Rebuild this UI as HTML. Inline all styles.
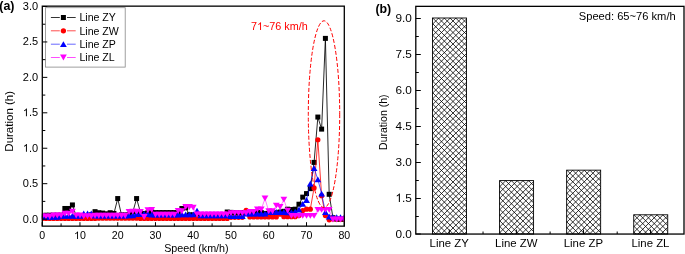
<!DOCTYPE html>
<html><head><meta charset="utf-8"><style>
html,body{margin:0;padding:0;background:#fff;overflow:hidden;}
svg{display:block;will-change:transform;}
</style></head><body><svg width="685" height="254" viewBox="0 0 685 254" font-family='"Liberation Sans", sans-serif'><defs><clipPath id="cb1"><rect x="432.50" y="18.00" width="34" height="216.00"/></clipPath><clipPath id="cb2"><rect x="499.58" y="180.60" width="34" height="53.40"/></clipPath><clipPath id="cb3"><rect x="566.66" y="170.16" width="34" height="63.84"/></clipPath><clipPath id="cb4"><rect x="633.74" y="214.80" width="34" height="19.20"/></clipPath><clipPath id="clipA"><rect x="41.9" y="6.5" width="302.4" height="219.5"/></clipPath></defs><rect width="685" height="254" fill="#fff"/><text x="-0.75" y="9.6" font-size="12.4" font-weight="bold">(a)</text><rect x="45.4" y="7.7" width="79.8" height="59.4" fill="#fff" stroke="#888" stroke-width="0.8"/><g clip-path="url(#clipA)"><polyline points="42.20,216.28 45.98,215.21 49.75,215.21 53.53,215.21 57.30,215.21 61.08,215.21 64.86,208.48 68.63,208.48 72.41,204.94 76.18,215.92 79.96,216.28 83.74,216.28 87.51,216.28 91.29,214.86 95.06,211.67 98.84,212.73 102.62,213.09 106.39,213.79 110.17,212.73 113.94,213.44 117.72,198.56 121.50,214.86 125.27,214.86 129.05,214.86 132.82,212.02 136.60,198.56 140.38,212.02 144.15,213.44 147.93,212.73 151.70,212.02 155.48,212.59 159.26,212.59 163.03,212.59 166.81,212.59 170.58,212.59 174.36,212.59 178.14,212.59 181.91,208.48 185.69,207.77 189.46,214.86 193.24,214.86 197.02,214.86 200.79,214.86 204.57,214.86 208.34,214.86 212.12,214.86 215.90,214.86 219.67,214.86 223.45,214.86 227.22,212.02 231.00,212.38 234.78,212.73 238.55,212.87 242.33,212.52 246.10,212.52 249.88,212.52 253.66,212.52 257.43,212.52 261.21,212.52 264.98,213.44 268.76,213.44 272.54,213.44 276.31,212.73 280.09,212.02 283.86,211.31 287.64,209.19 291.42,209.54 295.19,209.19 298.97,204.23 302.74,197.14 306.52,193.60 310.30,188.64 314.07,162.41 317.85,117.06 321.62,129.11 325.40,38.39 329.18,194.31 332.95,217.69 336.73,219.11 340.50,219.11 344.28,219.11" fill="none" stroke="#000" stroke-width="0.85" stroke-linejoin="round"/><g fill="#000"><rect x="39.70" y="213.78" width="5.0" height="5.0"/><rect x="43.48" y="212.71" width="5.0" height="5.0"/><rect x="47.25" y="212.71" width="5.0" height="5.0"/><rect x="51.03" y="212.71" width="5.0" height="5.0"/><rect x="54.80" y="212.71" width="5.0" height="5.0"/><rect x="58.58" y="212.71" width="5.0" height="5.0"/><rect x="62.36" y="205.98" width="5.0" height="5.0"/><rect x="66.13" y="205.98" width="5.0" height="5.0"/><rect x="69.91" y="202.44" width="5.0" height="5.0"/><rect x="73.68" y="213.42" width="5.0" height="5.0"/><rect x="77.46" y="213.78" width="5.0" height="5.0"/><rect x="81.24" y="213.78" width="5.0" height="5.0"/><rect x="85.01" y="213.78" width="5.0" height="5.0"/><rect x="88.79" y="212.36" width="5.0" height="5.0"/><rect x="92.56" y="209.17" width="5.0" height="5.0"/><rect x="96.34" y="210.23" width="5.0" height="5.0"/><rect x="100.12" y="210.59" width="5.0" height="5.0"/><rect x="103.89" y="211.29" width="5.0" height="5.0"/><rect x="107.67" y="210.23" width="5.0" height="5.0"/><rect x="111.44" y="210.94" width="5.0" height="5.0"/><rect x="115.22" y="196.06" width="5.0" height="5.0"/><rect x="119.00" y="212.36" width="5.0" height="5.0"/><rect x="122.77" y="212.36" width="5.0" height="5.0"/><rect x="126.55" y="212.36" width="5.0" height="5.0"/><rect x="130.32" y="209.52" width="5.0" height="5.0"/><rect x="134.10" y="196.06" width="5.0" height="5.0"/><rect x="137.88" y="209.52" width="5.0" height="5.0"/><rect x="141.65" y="210.94" width="5.0" height="5.0"/><rect x="145.43" y="210.23" width="5.0" height="5.0"/><rect x="149.20" y="209.52" width="5.0" height="5.0"/><rect x="152.98" y="210.09" width="5.0" height="5.0"/><rect x="156.76" y="210.09" width="5.0" height="5.0"/><rect x="160.53" y="210.09" width="5.0" height="5.0"/><rect x="164.31" y="210.09" width="5.0" height="5.0"/><rect x="168.08" y="210.09" width="5.0" height="5.0"/><rect x="171.86" y="210.09" width="5.0" height="5.0"/><rect x="175.64" y="210.09" width="5.0" height="5.0"/><rect x="179.41" y="205.98" width="5.0" height="5.0"/><rect x="183.19" y="205.27" width="5.0" height="5.0"/><rect x="186.96" y="212.36" width="5.0" height="5.0"/><rect x="190.74" y="212.36" width="5.0" height="5.0"/><rect x="194.52" y="212.36" width="5.0" height="5.0"/><rect x="198.29" y="212.36" width="5.0" height="5.0"/><rect x="202.07" y="212.36" width="5.0" height="5.0"/><rect x="205.84" y="212.36" width="5.0" height="5.0"/><rect x="209.62" y="212.36" width="5.0" height="5.0"/><rect x="213.40" y="212.36" width="5.0" height="5.0"/><rect x="217.17" y="212.36" width="5.0" height="5.0"/><rect x="220.95" y="212.36" width="5.0" height="5.0"/><rect x="224.72" y="209.52" width="5.0" height="5.0"/><rect x="228.50" y="209.88" width="5.0" height="5.0"/><rect x="232.28" y="210.23" width="5.0" height="5.0"/><rect x="236.05" y="210.37" width="5.0" height="5.0"/><rect x="239.83" y="210.02" width="5.0" height="5.0"/><rect x="243.60" y="210.02" width="5.0" height="5.0"/><rect x="247.38" y="210.02" width="5.0" height="5.0"/><rect x="251.16" y="210.02" width="5.0" height="5.0"/><rect x="254.93" y="210.02" width="5.0" height="5.0"/><rect x="258.71" y="210.02" width="5.0" height="5.0"/><rect x="262.48" y="210.94" width="5.0" height="5.0"/><rect x="266.26" y="210.94" width="5.0" height="5.0"/><rect x="270.04" y="210.94" width="5.0" height="5.0"/><rect x="273.81" y="210.23" width="5.0" height="5.0"/><rect x="277.59" y="209.52" width="5.0" height="5.0"/><rect x="281.36" y="208.81" width="5.0" height="5.0"/><rect x="285.14" y="206.69" width="5.0" height="5.0"/><rect x="288.92" y="207.04" width="5.0" height="5.0"/><rect x="292.69" y="206.69" width="5.0" height="5.0"/><rect x="296.47" y="201.73" width="5.0" height="5.0"/><rect x="300.24" y="194.64" width="5.0" height="5.0"/><rect x="304.02" y="191.10" width="5.0" height="5.0"/><rect x="307.80" y="186.14" width="5.0" height="5.0"/><rect x="311.57" y="159.91" width="5.0" height="5.0"/><rect x="315.35" y="114.56" width="5.0" height="5.0"/><rect x="319.12" y="126.61" width="5.0" height="5.0"/><rect x="322.90" y="35.89" width="5.0" height="5.0"/><rect x="326.68" y="191.81" width="5.0" height="5.0"/><rect x="330.45" y="215.19" width="5.0" height="5.0"/><rect x="334.23" y="216.61" width="5.0" height="5.0"/><rect x="338.00" y="216.61" width="5.0" height="5.0"/><rect x="341.78" y="216.61" width="5.0" height="5.0"/></g><polyline points="42.20,218.40 45.98,218.40 49.75,218.40 53.53,218.40 57.30,218.40 61.08,218.40 64.86,218.40 68.63,218.40 72.41,218.40 76.18,218.40 79.96,218.40 83.74,218.40 87.51,218.40 91.29,218.40 95.06,218.40 98.84,218.26 102.62,218.26 106.39,218.26 110.17,218.26 113.94,218.26 117.72,218.26 121.50,218.26 125.27,218.26 129.05,218.26 132.82,218.26 136.60,218.26 140.38,218.40 144.15,218.40 147.93,218.40 151.70,218.40 155.48,218.40 159.26,218.40 163.03,218.40 166.81,218.40 170.58,218.40 174.36,218.40 178.14,218.40 181.91,218.40 185.69,218.40 189.46,218.40 193.24,218.40 197.02,218.40 200.79,218.40 204.57,218.40 208.34,218.40 212.12,218.40 215.90,218.40 219.67,218.40 223.45,218.40 227.22,218.40 231.00,217.34 234.78,217.34 238.55,217.34 242.33,217.34 246.10,210.25 249.88,216.98 253.66,216.98 257.43,216.98 261.21,216.98 264.98,216.98 268.76,216.98 272.54,216.98 276.31,216.98 280.09,214.15 283.86,216.63 287.64,216.63 291.42,216.63 295.19,216.63 298.97,215.57 302.74,210.61 306.52,209.19 310.30,209.19 314.07,187.93 317.85,139.74 321.62,195.72 325.40,215.57 329.18,219.82 332.95,219.11 336.73,219.11 340.50,219.11 344.28,219.11" fill="none" stroke="#f00" stroke-width="0.8" stroke-linejoin="round"/><g fill="#f00"><circle cx="42.20" cy="218.40" r="2.6"/><circle cx="45.98" cy="218.40" r="2.6"/><circle cx="49.75" cy="218.40" r="2.6"/><circle cx="53.53" cy="218.40" r="2.6"/><circle cx="57.30" cy="218.40" r="2.6"/><circle cx="61.08" cy="218.40" r="2.6"/><circle cx="64.86" cy="218.40" r="2.6"/><circle cx="68.63" cy="218.40" r="2.6"/><circle cx="72.41" cy="218.40" r="2.6"/><circle cx="76.18" cy="218.40" r="2.6"/><circle cx="79.96" cy="218.40" r="2.6"/><circle cx="83.74" cy="218.40" r="2.6"/><circle cx="87.51" cy="218.40" r="2.6"/><circle cx="91.29" cy="218.40" r="2.6"/><circle cx="95.06" cy="218.40" r="2.6"/><circle cx="98.84" cy="218.26" r="2.6"/><circle cx="102.62" cy="218.26" r="2.6"/><circle cx="106.39" cy="218.26" r="2.6"/><circle cx="110.17" cy="218.26" r="2.6"/><circle cx="113.94" cy="218.26" r="2.6"/><circle cx="117.72" cy="218.26" r="2.6"/><circle cx="121.50" cy="218.26" r="2.6"/><circle cx="125.27" cy="218.26" r="2.6"/><circle cx="129.05" cy="218.26" r="2.6"/><circle cx="132.82" cy="218.26" r="2.6"/><circle cx="136.60" cy="218.26" r="2.6"/><circle cx="140.38" cy="218.40" r="2.6"/><circle cx="144.15" cy="218.40" r="2.6"/><circle cx="147.93" cy="218.40" r="2.6"/><circle cx="151.70" cy="218.40" r="2.6"/><circle cx="155.48" cy="218.40" r="2.6"/><circle cx="159.26" cy="218.40" r="2.6"/><circle cx="163.03" cy="218.40" r="2.6"/><circle cx="166.81" cy="218.40" r="2.6"/><circle cx="170.58" cy="218.40" r="2.6"/><circle cx="174.36" cy="218.40" r="2.6"/><circle cx="178.14" cy="218.40" r="2.6"/><circle cx="181.91" cy="218.40" r="2.6"/><circle cx="185.69" cy="218.40" r="2.6"/><circle cx="189.46" cy="218.40" r="2.6"/><circle cx="193.24" cy="218.40" r="2.6"/><circle cx="197.02" cy="218.40" r="2.6"/><circle cx="200.79" cy="218.40" r="2.6"/><circle cx="204.57" cy="218.40" r="2.6"/><circle cx="208.34" cy="218.40" r="2.6"/><circle cx="212.12" cy="218.40" r="2.6"/><circle cx="215.90" cy="218.40" r="2.6"/><circle cx="219.67" cy="218.40" r="2.6"/><circle cx="223.45" cy="218.40" r="2.6"/><circle cx="227.22" cy="218.40" r="2.6"/><circle cx="231.00" cy="217.34" r="2.6"/><circle cx="234.78" cy="217.34" r="2.6"/><circle cx="238.55" cy="217.34" r="2.6"/><circle cx="242.33" cy="217.34" r="2.6"/><circle cx="246.10" cy="210.25" r="2.6"/><circle cx="249.88" cy="216.98" r="2.6"/><circle cx="253.66" cy="216.98" r="2.6"/><circle cx="257.43" cy="216.98" r="2.6"/><circle cx="261.21" cy="216.98" r="2.6"/><circle cx="264.98" cy="216.98" r="2.6"/><circle cx="268.76" cy="216.98" r="2.6"/><circle cx="272.54" cy="216.98" r="2.6"/><circle cx="276.31" cy="216.98" r="2.6"/><circle cx="280.09" cy="214.15" r="2.6"/><circle cx="283.86" cy="216.63" r="2.6"/><circle cx="287.64" cy="216.63" r="2.6"/><circle cx="291.42" cy="216.63" r="2.6"/><circle cx="295.19" cy="216.63" r="2.6"/><circle cx="298.97" cy="215.57" r="2.6"/><circle cx="302.74" cy="210.61" r="2.6"/><circle cx="306.52" cy="209.19" r="2.6"/><circle cx="310.30" cy="209.19" r="2.6"/><circle cx="314.07" cy="187.93" r="2.6"/><circle cx="317.85" cy="139.74" r="2.6"/><circle cx="321.62" cy="195.72" r="2.6"/><circle cx="325.40" cy="215.57" r="2.6"/><circle cx="329.18" cy="219.82" r="2.6"/><circle cx="332.95" cy="219.11" r="2.6"/><circle cx="336.73" cy="219.11" r="2.6"/><circle cx="340.50" cy="219.11" r="2.6"/><circle cx="344.28" cy="219.11" r="2.6"/></g><polyline points="42.20,216.84 45.98,216.84 49.75,216.84 53.53,216.84 57.30,216.84 61.08,215.78 64.86,215.78 68.63,215.78 72.41,215.78 76.18,215.78 79.96,215.78 83.74,213.44 87.51,213.44 91.29,213.44 95.06,215.57 98.84,215.57 102.62,215.57 106.39,215.57 110.17,215.57 113.94,215.57 117.72,215.57 121.50,215.57 125.27,215.57 129.05,215.42 132.82,215.42 136.60,214.01 140.38,214.01 144.15,213.65 147.93,214.01 151.70,214.57 155.48,214.57 159.26,214.57 163.03,214.57 166.81,214.57 170.58,214.57 174.36,214.57 178.14,214.57 181.91,214.36 185.69,214.36 189.46,214.36 193.24,214.36 197.02,210.61 200.79,215.42 204.57,215.42 208.34,215.42 212.12,215.42 215.90,215.42 219.67,215.42 223.45,215.42 227.22,215.42 231.00,216.13 234.78,216.13 238.55,216.13 242.33,216.13 246.10,213.65 249.88,213.65 253.66,213.65 257.43,213.65 261.21,213.65 264.98,213.65 268.76,212.02 272.54,212.02 276.31,212.02 280.09,212.02 283.86,212.02 287.64,212.38 291.42,212.38 295.19,211.67 298.97,209.54 302.74,203.87 306.52,199.98 310.30,183.68 314.07,168.08 317.85,179.42 321.62,193.60 325.40,212.02 329.18,216.49 332.95,217.20 336.73,217.20 340.50,217.20 344.28,217.20" fill="none" stroke="#00f" stroke-width="0.65" stroke-linejoin="round"/><g fill="#00f"><path d="M38.80 219.79L45.60 219.79L42.20 213.89Z"/><path d="M42.58 219.79L49.38 219.79L45.98 213.89Z"/><path d="M46.35 219.79L53.15 219.79L49.75 213.89Z"/><path d="M50.13 219.79L56.93 219.79L53.53 213.89Z"/><path d="M53.90 219.79L60.70 219.79L57.30 213.89Z"/><path d="M57.68 218.73L64.48 218.73L61.08 212.83Z"/><path d="M61.46 218.73L68.26 218.73L64.86 212.83Z"/><path d="M65.23 218.73L72.03 218.73L68.63 212.83Z"/><path d="M69.01 218.73L75.81 218.73L72.41 212.83Z"/><path d="M72.78 218.73L79.58 218.73L76.18 212.83Z"/><path d="M76.56 218.73L83.36 218.73L79.96 212.83Z"/><path d="M80.34 216.39L87.14 216.39L83.74 210.49Z"/><path d="M84.11 216.39L90.91 216.39L87.51 210.49Z"/><path d="M87.89 216.39L94.69 216.39L91.29 210.49Z"/><path d="M91.66 218.52L98.46 218.52L95.06 212.62Z"/><path d="M95.44 218.52L102.24 218.52L98.84 212.62Z"/><path d="M99.22 218.52L106.02 218.52L102.62 212.62Z"/><path d="M102.99 218.52L109.79 218.52L106.39 212.62Z"/><path d="M106.77 218.52L113.57 218.52L110.17 212.62Z"/><path d="M110.54 218.52L117.34 218.52L113.94 212.62Z"/><path d="M114.32 218.52L121.12 218.52L117.72 212.62Z"/><path d="M118.10 218.52L124.90 218.52L121.50 212.62Z"/><path d="M121.87 218.52L128.67 218.52L125.27 212.62Z"/><path d="M125.65 218.37L132.45 218.37L129.05 212.47Z"/><path d="M129.42 218.37L136.22 218.37L132.82 212.47Z"/><path d="M133.20 216.96L140.00 216.96L136.60 211.06Z"/><path d="M136.98 216.96L143.78 216.96L140.38 211.06Z"/><path d="M140.75 216.60L147.55 216.60L144.15 210.70Z"/><path d="M144.53 216.96L151.33 216.96L147.93 211.06Z"/><path d="M148.30 217.52L155.10 217.52L151.70 211.62Z"/><path d="M152.08 217.52L158.88 217.52L155.48 211.62Z"/><path d="M155.86 217.52L162.66 217.52L159.26 211.62Z"/><path d="M159.63 217.52L166.43 217.52L163.03 211.62Z"/><path d="M163.41 217.52L170.21 217.52L166.81 211.62Z"/><path d="M167.18 217.52L173.98 217.52L170.58 211.62Z"/><path d="M170.96 217.52L177.76 217.52L174.36 211.62Z"/><path d="M174.74 217.52L181.54 217.52L178.14 211.62Z"/><path d="M178.51 217.31L185.31 217.31L181.91 211.41Z"/><path d="M182.29 217.31L189.09 217.31L185.69 211.41Z"/><path d="M186.06 217.31L192.86 217.31L189.46 211.41Z"/><path d="M189.84 217.31L196.64 217.31L193.24 211.41Z"/><path d="M193.62 213.56L200.42 213.56L197.02 207.66Z"/><path d="M197.39 218.37L204.19 218.37L200.79 212.47Z"/><path d="M201.17 218.37L207.97 218.37L204.57 212.47Z"/><path d="M204.94 218.37L211.74 218.37L208.34 212.47Z"/><path d="M208.72 218.37L215.52 218.37L212.12 212.47Z"/><path d="M212.50 218.37L219.30 218.37L215.90 212.47Z"/><path d="M216.27 218.37L223.07 218.37L219.67 212.47Z"/><path d="M220.05 218.37L226.85 218.37L223.45 212.47Z"/><path d="M223.82 218.37L230.62 218.37L227.22 212.47Z"/><path d="M227.60 219.08L234.40 219.08L231.00 213.18Z"/><path d="M231.38 219.08L238.18 219.08L234.78 213.18Z"/><path d="M235.15 219.08L241.95 219.08L238.55 213.18Z"/><path d="M238.93 219.08L245.73 219.08L242.33 213.18Z"/><path d="M242.70 216.60L249.50 216.60L246.10 210.70Z"/><path d="M246.48 216.60L253.28 216.60L249.88 210.70Z"/><path d="M250.26 216.60L257.06 216.60L253.66 210.70Z"/><path d="M254.03 216.60L260.83 216.60L257.43 210.70Z"/><path d="M257.81 216.60L264.61 216.60L261.21 210.70Z"/><path d="M261.58 216.60L268.38 216.60L264.98 210.70Z"/><path d="M265.36 214.97L272.16 214.97L268.76 209.07Z"/><path d="M269.14 214.97L275.94 214.97L272.54 209.07Z"/><path d="M272.91 214.97L279.71 214.97L276.31 209.07Z"/><path d="M276.69 214.97L283.49 214.97L280.09 209.07Z"/><path d="M280.46 214.97L287.26 214.97L283.86 209.07Z"/><path d="M284.24 215.33L291.04 215.33L287.64 209.43Z"/><path d="M288.02 215.33L294.82 215.33L291.42 209.43Z"/><path d="M291.79 214.62L298.59 214.62L295.19 208.72Z"/><path d="M295.57 212.49L302.37 212.49L298.97 206.59Z"/><path d="M299.34 206.82L306.14 206.82L302.74 200.92Z"/><path d="M303.12 202.93L309.92 202.93L306.52 197.03Z"/><path d="M306.90 186.62L313.70 186.62L310.30 180.73Z"/><path d="M310.67 171.03L317.47 171.03L314.07 165.13Z"/><path d="M314.45 182.37L321.25 182.37L317.85 176.47Z"/><path d="M318.22 196.55L325.02 196.55L321.62 190.65Z"/><path d="M322.00 214.97L328.80 214.97L325.40 209.07Z"/><path d="M325.78 219.44L332.58 219.44L329.18 213.54Z"/><path d="M329.55 220.15L336.35 220.15L332.95 214.25Z"/><path d="M333.33 220.15L340.13 220.15L336.73 214.25Z"/><path d="M337.10 220.15L343.90 220.15L340.50 214.25Z"/><path d="M340.88 220.15L347.68 220.15L344.28 214.25Z"/></g><polyline points="42.20,216.49 45.98,216.49 49.75,216.49 53.53,215.57 57.30,215.57 61.08,215.57 64.86,213.79 68.63,213.79 72.41,211.67 76.18,215.57 79.96,215.57 83.74,216.28 87.51,216.28 91.29,216.28 95.06,215.78 98.84,215.78 102.62,215.78 106.39,215.78 110.17,215.78 113.94,215.78 117.72,215.78 121.50,215.78 125.27,215.78 129.05,212.02 132.82,211.67 136.60,211.67 140.38,212.02 144.15,216.98 147.93,210.25 151.70,209.90 155.48,214.72 159.26,214.72 163.03,214.72 166.81,214.72 170.58,214.72 174.36,214.72 178.14,210.96 181.91,211.31 185.69,207.06 189.46,207.06 193.24,207.77 197.02,214.50 200.79,214.50 204.57,214.50 208.34,214.50 212.12,214.50 215.90,214.50 219.67,214.50 223.45,214.50 227.22,214.50 231.00,213.09 234.78,213.09 238.55,213.09 242.33,213.09 246.10,213.09 249.88,212.02 253.66,212.02 257.43,209.54 261.21,209.54 264.98,198.56 268.76,211.31 272.54,211.31 276.31,205.64 280.09,207.06 283.86,199.62 287.64,210.61 291.42,215.92 295.19,215.92 298.97,215.92 302.74,215.92 306.52,215.92 310.30,215.92 314.07,215.92 317.85,209.90 321.62,209.90 325.40,209.90 329.18,209.90 332.95,219.46 336.73,219.46 340.50,219.46 344.28,219.46" fill="none" stroke="#f0f" stroke-width="0.5" stroke-linejoin="round"/><g fill="#f0f"><path d="M38.80 213.54L45.60 213.54L42.20 219.44Z"/><path d="M42.58 213.54L49.38 213.54L45.98 219.44Z"/><path d="M46.35 213.54L53.15 213.54L49.75 219.44Z"/><path d="M50.13 212.62L56.93 212.62L53.53 218.52Z"/><path d="M53.90 212.62L60.70 212.62L57.30 218.52Z"/><path d="M57.68 212.62L64.48 212.62L61.08 218.52Z"/><path d="M61.46 210.84L68.26 210.84L64.86 216.74Z"/><path d="M65.23 210.84L72.03 210.84L68.63 216.74Z"/><path d="M69.01 208.72L75.81 208.72L72.41 214.62Z"/><path d="M72.78 212.62L79.58 212.62L76.18 218.52Z"/><path d="M76.56 212.62L83.36 212.62L79.96 218.52Z"/><path d="M80.34 213.33L87.14 213.33L83.74 219.23Z"/><path d="M84.11 213.33L90.91 213.33L87.51 219.23Z"/><path d="M87.89 213.33L94.69 213.33L91.29 219.23Z"/><path d="M91.66 212.83L98.46 212.83L95.06 218.73Z"/><path d="M95.44 212.83L102.24 212.83L98.84 218.73Z"/><path d="M99.22 212.83L106.02 212.83L102.62 218.73Z"/><path d="M102.99 212.83L109.79 212.83L106.39 218.73Z"/><path d="M106.77 212.83L113.57 212.83L110.17 218.73Z"/><path d="M110.54 212.83L117.34 212.83L113.94 218.73Z"/><path d="M114.32 212.83L121.12 212.83L117.72 218.73Z"/><path d="M118.10 212.83L124.90 212.83L121.50 218.73Z"/><path d="M121.87 212.83L128.67 212.83L125.27 218.73Z"/><path d="M125.65 209.07L132.45 209.07L129.05 214.97Z"/><path d="M129.42 208.72L136.22 208.72L132.82 214.62Z"/><path d="M133.20 208.72L140.00 208.72L136.60 214.62Z"/><path d="M136.98 209.07L143.78 209.07L140.38 214.97Z"/><path d="M140.75 214.03L147.55 214.03L144.15 219.93Z"/><path d="M144.53 207.30L151.33 207.30L147.93 213.20Z"/><path d="M148.30 206.95L155.10 206.95L151.70 212.85Z"/><path d="M152.08 211.77L158.88 211.77L155.48 217.67Z"/><path d="M155.86 211.77L162.66 211.77L159.26 217.67Z"/><path d="M159.63 211.77L166.43 211.77L163.03 217.67Z"/><path d="M163.41 211.77L170.21 211.77L166.81 217.67Z"/><path d="M167.18 211.77L173.98 211.77L170.58 217.67Z"/><path d="M170.96 211.77L177.76 211.77L174.36 217.67Z"/><path d="M174.74 208.01L181.54 208.01L178.14 213.91Z"/><path d="M178.51 208.36L185.31 208.36L181.91 214.26Z"/><path d="M182.29 204.11L189.09 204.11L185.69 210.01Z"/><path d="M186.06 204.11L192.86 204.11L189.46 210.01Z"/><path d="M189.84 204.82L196.64 204.82L193.24 210.72Z"/><path d="M193.62 211.55L200.42 211.55L197.02 217.45Z"/><path d="M197.39 211.55L204.19 211.55L200.79 217.45Z"/><path d="M201.17 211.55L207.97 211.55L204.57 217.45Z"/><path d="M204.94 211.55L211.74 211.55L208.34 217.45Z"/><path d="M208.72 211.55L215.52 211.55L212.12 217.45Z"/><path d="M212.50 211.55L219.30 211.55L215.90 217.45Z"/><path d="M216.27 211.55L223.07 211.55L219.67 217.45Z"/><path d="M220.05 211.55L226.85 211.55L223.45 217.45Z"/><path d="M223.82 211.55L230.62 211.55L227.22 217.45Z"/><path d="M227.60 210.14L234.40 210.14L231.00 216.04Z"/><path d="M231.38 210.14L238.18 210.14L234.78 216.04Z"/><path d="M235.15 210.14L241.95 210.14L238.55 216.04Z"/><path d="M238.93 210.14L245.73 210.14L242.33 216.04Z"/><path d="M242.70 210.14L249.50 210.14L246.10 216.04Z"/><path d="M246.48 209.07L253.28 209.07L249.88 214.97Z"/><path d="M250.26 209.07L257.06 209.07L253.66 214.97Z"/><path d="M254.03 206.59L260.83 206.59L257.43 212.49Z"/><path d="M257.81 206.59L264.61 206.59L261.21 212.49Z"/><path d="M261.58 195.61L268.38 195.61L264.98 201.51Z"/><path d="M265.36 208.36L272.16 208.36L268.76 214.26Z"/><path d="M269.14 208.36L275.94 208.36L272.54 214.26Z"/><path d="M272.91 202.69L279.71 202.69L276.31 208.59Z"/><path d="M276.69 204.11L283.49 204.11L280.09 210.01Z"/><path d="M280.46 196.67L287.26 196.67L283.86 202.57Z"/><path d="M284.24 207.66L291.04 207.66L287.64 213.56Z"/><path d="M288.02 212.97L294.82 212.97L291.42 218.87Z"/><path d="M291.79 212.97L298.59 212.97L295.19 218.87Z"/><path d="M295.57 212.97L302.37 212.97L298.97 218.87Z"/><path d="M299.34 212.97L306.14 212.97L302.74 218.87Z"/><path d="M303.12 212.97L309.92 212.97L306.52 218.87Z"/><path d="M306.90 212.97L313.70 212.97L310.30 218.87Z"/><path d="M310.67 212.97L317.47 212.97L314.07 218.87Z"/><path d="M314.45 206.95L321.25 206.95L317.85 212.85Z"/><path d="M318.22 206.95L325.02 206.95L321.62 212.85Z"/><path d="M322.00 206.95L328.80 206.95L325.40 212.85Z"/><path d="M325.78 206.95L332.58 206.95L329.18 212.85Z"/><path d="M329.55 216.51L336.35 216.51L332.95 222.41Z"/><path d="M333.33 216.51L340.13 216.51L336.73 222.41Z"/><path d="M337.10 216.51L343.90 216.51L340.50 222.41Z"/><path d="M340.88 216.51L347.68 216.51L344.28 222.41Z"/></g></g><ellipse cx="324.0" cy="114.2" rx="15.7" ry="93.4" fill="none" stroke="#f00" stroke-width="1" stroke-dasharray="4 2"/><text x="251.00" y="30.00" font-size="10.8" fill="#f00">7 ~76 km/h</text><path transform="translate(257.006 30.000) scale(0.005273 -0.005273)" d="M763 0L583 0L583 1147Q518 1085 415 1024.5Q312 964 223 931L223 1105Q374 1176 485.5 1275Q597 1374 647 1466L763 1466Z" fill="#f00"/><rect x="42.3" y="6.15" width="302.0" height="220.0" fill="none" stroke="#000" stroke-width="1.3"/><path d="M42.3 219.11h5 M42.3 201.39h3 M42.3 183.68h5 M42.3 165.96h3 M42.3 148.24h5 M42.3 130.52h3 M42.3 112.81h5 M42.3 95.09h3 M42.3 77.37h5 M42.3 59.65h3 M42.3 41.94h5 M42.3 24.22h3 M42.3 6.50h5 M42.3 226.70 M42.20 226.2v-4 M61.08 226.2v-2.8 M79.96 226.2v-4 M98.84 226.2v-2.8 M117.72 226.2v-4 M136.60 226.2v-2.8 M155.48 226.2v-4 M174.36 226.2v-2.8 M193.24 226.2v-4 M212.12 226.2v-2.8 M231.00 226.2v-4 M249.88 226.2v-2.8 M268.76 226.2v-4 M287.64 226.2v-2.8 M306.52 226.2v-4 M325.40 226.2v-2.8 M344.28 226.2v-4" stroke="#000" stroke-width="1" fill="none"/><text x="38.10" y="222.66" font-size="11" text-anchor="end">0.0</text><text x="38.10" y="187.23" font-size="11" text-anchor="end">0.5</text><text x="38.10" y="151.79" font-size="11" text-anchor="end"> .0</text><path transform="translate(22.808 151.790) scale(0.005371 -0.005371)" d="M763 0L583 0L583 1147Q518 1085 415 1024.5Q312 964 223 931L223 1105Q374 1176 485.5 1275Q597 1374 647 1466L763 1466Z"/><text x="38.10" y="116.36" font-size="11" text-anchor="end"> .5</text><path transform="translate(22.808 116.355) scale(0.005371 -0.005371)" d="M763 0L583 0L583 1147Q518 1085 415 1024.5Q312 964 223 931L223 1105Q374 1176 485.5 1275Q597 1374 647 1466L763 1466Z"/><text x="38.10" y="80.92" font-size="11" text-anchor="end">2.0</text><text x="38.10" y="45.48" font-size="11" text-anchor="end">2.5</text><text x="38.10" y="10.05" font-size="11" text-anchor="end">3.0</text><text x="42.20" y="239.00" font-size="10.6" text-anchor="middle">0</text><text x="79.96" y="239.00" font-size="10.6" text-anchor="middle"> 0</text><path transform="translate(74.065 239.000) scale(0.005176 -0.005176)" d="M763 0L583 0L583 1147Q518 1085 415 1024.5Q312 964 223 931L223 1105Q374 1176 485.5 1275Q597 1374 647 1466L763 1466Z"/><text x="117.72" y="239.00" font-size="10.6" text-anchor="middle">20</text><text x="155.48" y="239.00" font-size="10.6" text-anchor="middle">30</text><text x="193.24" y="239.00" font-size="10.6" text-anchor="middle">40</text><text x="231.00" y="239.00" font-size="10.6" text-anchor="middle">50</text><text x="268.76" y="239.00" font-size="10.6" text-anchor="middle">60</text><text x="306.52" y="239.00" font-size="10.6" text-anchor="middle">70</text><text x="344.28" y="239.00" font-size="10.6" text-anchor="middle">80</text><text x="196.4" y="251.6" font-size="10.75" text-anchor="middle">Speed (km/h)</text><text transform="translate(12.8 121.3) rotate(-90)" font-size="11.5" text-anchor="middle">Duration (h)</text><path d="M50.9 17.50H59.8M67.0 17.50H75.7" stroke="#000" stroke-width="0.8"/><rect x="60.9" y="15.00" width="5" height="5" fill="#000"/><text x="79.4" y="21.30" font-size="10.6">Line ZY</text><path d="M50.9 30.80H59.8M67.0 30.80H75.7" stroke="#f00" stroke-width="0.7"/><circle cx="63.4" cy="30.80" r="2.65" fill="#f00"/><text x="79.4" y="34.60" font-size="10.6">Line ZW</text><path d="M50.9 44.20H59.8M67.0 44.20H75.7" stroke="#00f" stroke-width="0.6"/><path d="M60.0 47.10L66.8 47.10L63.4 41.30Z" fill="#00f"/><text x="79.4" y="48.00" font-size="10.6">Line ZP</text><path d="M50.9 57.50H59.8M67.0 57.50H75.7" stroke="#f0f" stroke-width="0.7"/><path d="M60.0 54.60L66.8 54.60L63.4 60.40Z" fill="#f0f"/><text x="79.4" y="61.30" font-size="10.6">Line ZL</text><text x="375.4" y="12.7" font-size="12.4" font-weight="bold">(b)</text><path clip-path="url(#cb1)" d="M430.50 8.97L468.50 -29.03M430.50 14.72L468.50 -23.28M430.50 20.47L468.50 -17.53M430.50 26.22L468.50 -11.78M430.50 31.97L468.50 -6.03M430.50 37.72L468.50 -0.28M430.50 43.47L468.50 5.47M430.50 49.22L468.50 11.22M430.50 54.97L468.50 16.97M430.50 60.72L468.50 22.72M430.50 66.47L468.50 28.47M430.50 72.22L468.50 34.22M430.50 77.97L468.50 39.97M430.50 83.72L468.50 45.72M430.50 89.47L468.50 51.47M430.50 95.22L468.50 57.22M430.50 100.97L468.50 62.97M430.50 106.72L468.50 68.72M430.50 112.47L468.50 74.47M430.50 118.22L468.50 80.22M430.50 123.97L468.50 85.97M430.50 129.72L468.50 91.72M430.50 135.47L468.50 97.47M430.50 141.22L468.50 103.22M430.50 146.97L468.50 108.97M430.50 152.72L468.50 114.72M430.50 158.47L468.50 120.47M430.50 164.22L468.50 126.22M430.50 169.97L468.50 131.97M430.50 175.72L468.50 137.72M430.50 181.47L468.50 143.47M430.50 187.22L468.50 149.22M430.50 192.97L468.50 154.97M430.50 198.72L468.50 160.72M430.50 204.47L468.50 166.47M430.50 210.22L468.50 172.22M430.50 215.97L468.50 177.97M430.50 221.72L468.50 183.72M430.50 227.47L468.50 189.47M430.50 233.22L468.50 195.22M430.50 238.97L468.50 200.97M430.50 244.72L468.50 206.72M430.50 250.47L468.50 212.47M430.50 256.22L468.50 218.22M430.50 261.97L468.50 223.97M430.50 267.72L468.50 229.72M430.50 273.47L468.50 235.47M430.50 279.22L468.50 241.22M430.50 240.02L468.50 278.02M430.50 234.27L468.50 272.27M430.50 228.52L468.50 266.52M430.50 222.77L468.50 260.77M430.50 217.02L468.50 255.02M430.50 211.27L468.50 249.27M430.50 205.52L468.50 243.52M430.50 199.77L468.50 237.77M430.50 194.02L468.50 232.02M430.50 188.27L468.50 226.27M430.50 182.52L468.50 220.52M430.50 176.77L468.50 214.77M430.50 171.02L468.50 209.02M430.50 165.27L468.50 203.27M430.50 159.52L468.50 197.52M430.50 153.77L468.50 191.77M430.50 148.02L468.50 186.02M430.50 142.27L468.50 180.27M430.50 136.52L468.50 174.52M430.50 130.77L468.50 168.77M430.50 125.02L468.50 163.02M430.50 119.27L468.50 157.27M430.50 113.52L468.50 151.52M430.50 107.77L468.50 145.77M430.50 102.02L468.50 140.02M430.50 96.27L468.50 134.27M430.50 90.52L468.50 128.52M430.50 84.77L468.50 122.77M430.50 79.02L468.50 117.02M430.50 73.27L468.50 111.27M430.50 67.52L468.50 105.52M430.50 61.77L468.50 99.77M430.50 56.02L468.50 94.02M430.50 50.27L468.50 88.27M430.50 44.52L468.50 82.52M430.50 38.77L468.50 76.77M430.50 33.02L468.50 71.02M430.50 27.27L468.50 65.27M430.50 21.52L468.50 59.52M430.50 15.77L468.50 53.77M430.50 10.02L468.50 48.02M430.50 4.27L468.50 42.27M430.50 -1.48L468.50 36.52M430.50 -7.23L468.50 30.77M430.50 -12.98L468.50 25.02M430.50 -18.73L468.50 19.27M430.50 -24.48L468.50 13.52" stroke="#000" stroke-width="0.8" fill="none"/><rect x="432.50" y="18.00" width="34" height="216.00" fill="none" stroke="#000" stroke-width="0.9"/><path clip-path="url(#cb2)" d="M497.58 171.57L535.58 133.57M497.58 177.32L535.58 139.32M497.58 183.07L535.58 145.07M497.58 188.82L535.58 150.82M497.58 194.57L535.58 156.57M497.58 200.32L535.58 162.32M497.58 206.07L535.58 168.07M497.58 211.82L535.58 173.82M497.58 217.57L535.58 179.57M497.58 223.32L535.58 185.32M497.58 229.07L535.58 191.07M497.58 234.82L535.58 196.82M497.58 240.57L535.58 202.57M497.58 246.32L535.58 208.32M497.58 252.07L535.58 214.07M497.58 257.82L535.58 219.82M497.58 263.57L535.58 225.57M497.58 269.32L535.58 231.32M497.58 275.07L535.58 237.07M497.58 280.82L535.58 242.82M497.58 241.62L535.58 279.62M497.58 235.87L535.58 273.87M497.58 230.12L535.58 268.12M497.58 224.37L535.58 262.37M497.58 218.62L535.58 256.62M497.58 212.87L535.58 250.87M497.58 207.12L535.58 245.12M497.58 201.37L535.58 239.37M497.58 195.62L535.58 233.62M497.58 189.87L535.58 227.87M497.58 184.12L535.58 222.12M497.58 178.37L535.58 216.37M497.58 172.62L535.58 210.62M497.58 166.87L535.58 204.87M497.58 161.12L535.58 199.12M497.58 155.37L535.58 193.37M497.58 149.62L535.58 187.62M497.58 143.87L535.58 181.87M497.58 138.12L535.58 176.12" stroke="#000" stroke-width="0.8" fill="none"/><rect x="499.58" y="180.60" width="34" height="53.40" fill="none" stroke="#000" stroke-width="0.9"/><path clip-path="url(#cb3)" d="M564.66 161.13L602.66 123.13M564.66 166.88L602.66 128.88M564.66 172.63L602.66 134.63M564.66 178.38L602.66 140.38M564.66 184.13L602.66 146.13M564.66 189.88L602.66 151.88M564.66 195.63L602.66 157.63M564.66 201.38L602.66 163.38M564.66 207.13L602.66 169.13M564.66 212.88L602.66 174.88M564.66 218.63L602.66 180.63M564.66 224.38L602.66 186.38M564.66 230.13L602.66 192.13M564.66 235.88L602.66 197.88M564.66 241.63L602.66 203.63M564.66 247.38L602.66 209.38M564.66 253.13L602.66 215.13M564.66 258.88L602.66 220.88M564.66 264.63L602.66 226.63M564.66 270.38L602.66 232.38M564.66 276.13L602.66 238.13M564.66 242.68L602.66 280.68M564.66 236.93L602.66 274.93M564.66 231.18L602.66 269.18M564.66 225.43L602.66 263.43M564.66 219.68L602.66 257.68M564.66 213.93L602.66 251.93M564.66 208.18L602.66 246.18M564.66 202.43L602.66 240.43M564.66 196.68L602.66 234.68M564.66 190.93L602.66 228.93M564.66 185.18L602.66 223.18M564.66 179.43L602.66 217.43M564.66 173.68L602.66 211.68M564.66 167.93L602.66 205.93M564.66 162.18L602.66 200.18M564.66 156.43L602.66 194.43M564.66 150.68L602.66 188.68M564.66 144.93L602.66 182.93M564.66 139.18L602.66 177.18M564.66 133.43L602.66 171.43M564.66 127.68L602.66 165.68" stroke="#000" stroke-width="0.8" fill="none"/><rect x="566.66" y="170.16" width="34" height="63.84" fill="none" stroke="#000" stroke-width="0.9"/><path clip-path="url(#cb4)" d="M631.74 205.77L669.74 167.77M631.74 211.52L669.74 173.52M631.74 217.27L669.74 179.27M631.74 223.02L669.74 185.02M631.74 228.77L669.74 190.77M631.74 234.52L669.74 196.52M631.74 240.27L669.74 202.27M631.74 246.02L669.74 208.02M631.74 251.77L669.74 213.77M631.74 257.52L669.74 219.52M631.74 263.27L669.74 225.27M631.74 269.02L669.74 231.02M631.74 274.77L669.74 236.77M631.74 280.52L669.74 242.52M631.74 241.32L669.74 279.32M631.74 235.57L669.74 273.57M631.74 229.82L669.74 267.82M631.74 224.07L669.74 262.07M631.74 218.32L669.74 256.32M631.74 212.57L669.74 250.57M631.74 206.82L669.74 244.82M631.74 201.07L669.74 239.07M631.74 195.32L669.74 233.32M631.74 189.57L669.74 227.57M631.74 183.82L669.74 221.82M631.74 178.07L669.74 216.07M631.74 172.32L669.74 210.32" stroke="#000" stroke-width="0.8" fill="none"/><rect x="633.74" y="214.80" width="34" height="19.20" fill="none" stroke="#000" stroke-width="0.9"/><rect x="415.8" y="6.35" width="268.2" height="227.7" fill="none" stroke="#000" stroke-width="1.3"/><path d="M415.8 234.00h5 M415.8 216.50h3 M415.8 198.50h5 M415.8 180.50h3 M415.8 162.50h5 M415.8 144.50h3 M415.8 126.50h5 M415.8 108.50h3 M415.8 90.50h5 M415.8 72.50h3 M415.8 54.50h5 M415.8 36.50h3 M415.8 18.50h5 M449.30 234.0v-4.5 M516.38 234.0v-4.5 M583.46 234.0v-4.5 M650.54 234.0v-4.5 M483.04 234.0v-2.5 M550.12 234.0v-2.5 M617.20 234.0v-2.5" stroke="#000" stroke-width="1" fill="none"/><text x="411.90" y="237.95" font-size="11.8" text-anchor="end">0.0</text><text x="411.90" y="201.95" font-size="11.8" text-anchor="end"> .5</text><path transform="translate(395.496 201.950) scale(0.005762 -0.005762)" d="M763 0L583 0L583 1147Q518 1085 415 1024.5Q312 964 223 931L223 1105Q374 1176 485.5 1275Q597 1374 647 1466L763 1466Z"/><text x="411.90" y="165.95" font-size="11.8" text-anchor="end">3.0</text><text x="411.90" y="129.95" font-size="11.8" text-anchor="end">4.5</text><text x="411.90" y="93.95" font-size="11.8" text-anchor="end">6.0</text><text x="411.90" y="57.95" font-size="11.8" text-anchor="end">7.5</text><text x="411.90" y="21.95" font-size="11.8" text-anchor="end">9.0</text><text x="449.20" y="246.9" font-size="11.4" text-anchor="middle">Line ZY</text><text x="516.28" y="246.9" font-size="11.4" text-anchor="middle">Line ZW</text><text x="583.36" y="246.9" font-size="11.4" text-anchor="middle">Line ZP</text><text x="650.44" y="246.9" font-size="11.4" text-anchor="middle">Line ZL</text><text transform="translate(386.7 122.2) rotate(-90)" font-size="10.5" text-anchor="middle">Duration (h)</text><text x="675.7" y="19.9" font-size="11.15" text-anchor="end">Speed: 65~76 km/h</text></svg></body></html>
